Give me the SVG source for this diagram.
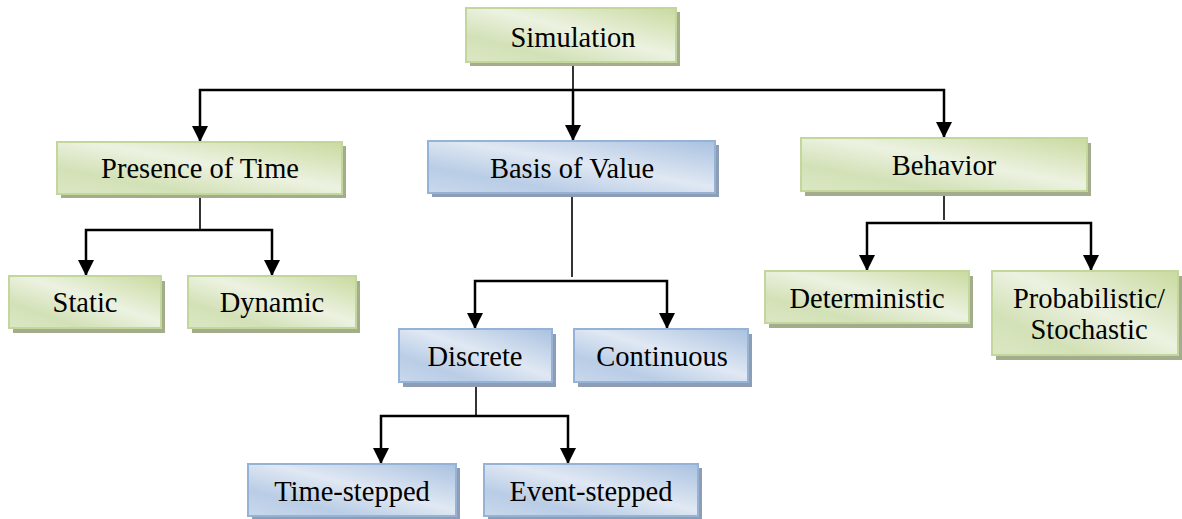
<svg xmlns="http://www.w3.org/2000/svg" width="1182" height="519" viewBox="0 0 1182 519" font-family="Liberation Serif, Tinos, Nimbus Roman, Times New Roman, DejaVu Serif, Noto Serif, serif">
  <style>
    text { font-size: 28.5px; fill: #000; text-anchor: middle; }
    .g .box { fill: url(#gGreen); stroke: #c3d69b; stroke-width: 2; }
    .g .shd { fill: #a3ad8c; }
    .b .box { fill: url(#gBlue); stroke: #95b3d7; stroke-width: 2; }
    .b .shd { fill: #8d9db3; }
    .arrow { fill: none; stroke: #000; stroke-width: 2.5; marker-end: url(#head); }
    .stem { fill: none; stroke: #000; stroke-width: 1.6; }
  </style>
  <defs>
    <linearGradient id="gGreen" x1="0" y1="1" x2="1" y2="0">
      <stop offset="0" stop-color="#dbe7c4"/>
      <stop offset="0.25" stop-color="#d3e1b7"/>
      <stop offset="0.55" stop-color="#ecf2e1"/>
      <stop offset="1" stop-color="#c9da9f"/>
    </linearGradient>
    <linearGradient id="gBlue" x1="0" y1="1" x2="1" y2="0">
      <stop offset="0" stop-color="#c9d8ec"/>
      <stop offset="0.25" stop-color="#b9cde6"/>
      <stop offset="0.55" stop-color="#e0e8f3"/>
      <stop offset="1" stop-color="#a9c1e0"/>
    </linearGradient>
    <marker id="head" markerUnits="userSpaceOnUse" markerWidth="17" markerHeight="16" refX="16" refY="8" orient="auto" viewBox="0 0 17 16">
      <path d="M0,0 L16,8 L0,16 z" fill="#000"/>
    </marker>
  </defs>

  <!-- connectors -->
  <g id="connectors">
    <path class="stem" d="M573,62 V90"/>
    <path class="arrow" d="M573,90 H200 V142"/>
    <path class="arrow" d="M573,90 H944 V138"/>
    <path class="arrow" d="M573,90 V141"/>

    <path class="stem" d="M200,194 V230"/>
    <path class="arrow" d="M200,230 H86 V276"/>
    <path class="arrow" d="M200,230 H272 V276"/>

    <path class="stem" d="M572,193 V277"/>
    <path class="arrow" d="M572,281 H475 V329"/>
    <path class="arrow" d="M572,281 H667 V329"/>

    <path class="stem" d="M476,382 V416"/>
    <path class="arrow" d="M476,416 H381 V464"/>
    <path class="arrow" d="M476,416 H568 V464"/>

    <path class="stem" d="M944,191 V220"/>
    <path class="arrow" d="M944,223 H867 V271"/>
    <path class="arrow" d="M944,223 H1091 V271"/>
  </g>

  <g id="simulation" class="g">
    <rect class="shd" x="470" y="12" width="210" height="54"/>
    <rect class="box" x="466" y="8" width="210" height="54"/>
    <text x="573" y="47">Simulation</text>
  </g>

  <g id="presence-of-time" class="g">
    <rect class="shd" x="61" y="146" width="285" height="52"/>
    <rect class="box" x="57" y="142" width="285" height="52"/>
    <text x="200" y="178">Presence of Time</text>
  </g>

  <g id="static" class="g">
    <rect class="shd" x="13" y="281" width="152" height="52"/>
    <rect class="box" x="9" y="276" width="152" height="52"/>
    <text x="85" y="312">Static</text>
  </g>

  <g id="dynamic" class="g">
    <rect class="shd" x="192" y="281" width="168" height="52"/>
    <rect class="box" x="188" y="276" width="168" height="52"/>
    <text x="272" y="312">Dynamic</text>
  </g>

  <g id="basis-of-value" class="b">
    <rect class="shd" x="432" y="145" width="287" height="52"/>
    <rect class="box" x="428" y="141" width="287" height="52"/>
    <text x="572" y="178">Basis of Value</text>
  </g>

  <g id="discrete" class="b">
    <rect class="shd" x="403" y="334" width="153" height="53"/>
    <rect class="box" x="399" y="329" width="153" height="53"/>
    <text x="475" y="366">Discrete</text>
  </g>

  <g id="continuous" class="b">
    <rect class="shd" x="578" y="334" width="174" height="53"/>
    <rect class="box" x="574" y="329" width="174" height="53"/>
    <text x="662" y="366">Continuous</text>
  </g>

  <g id="time-stepped" class="b">
    <rect class="shd" x="252" y="468" width="208" height="52"/>
    <rect class="box" x="248" y="464" width="208" height="52"/>
    <text x="352" y="501">Time-stepped</text>
  </g>

  <g id="event-stepped" class="b">
    <rect class="shd" x="488" y="468" width="214" height="52"/>
    <rect class="box" x="484" y="464" width="214" height="52"/>
    <text x="591" y="501">Event-stepped</text>
  </g>

  <g id="behavior" class="g">
    <rect class="shd" x="805" y="143" width="286" height="53"/>
    <rect class="box" x="801" y="138" width="286" height="53"/>
    <text x="944" y="175">Behavior</text>
  </g>

  <g id="deterministic" class="g">
    <rect class="shd" x="769" y="276" width="204" height="52"/>
    <rect class="box" x="765" y="271" width="204" height="52"/>
    <text x="867" y="308">Deterministic</text>
  </g>

  <g id="probabilistic" class="g">
    <rect class="shd" x="996" y="276" width="186" height="84"/>
    <rect class="box" x="992" y="271" width="186" height="84"/>
    <text x="1089" y="308">Probabilistic/</text>
    <text x="1089" y="339">Stochastic</text>
  </g>
</svg>
